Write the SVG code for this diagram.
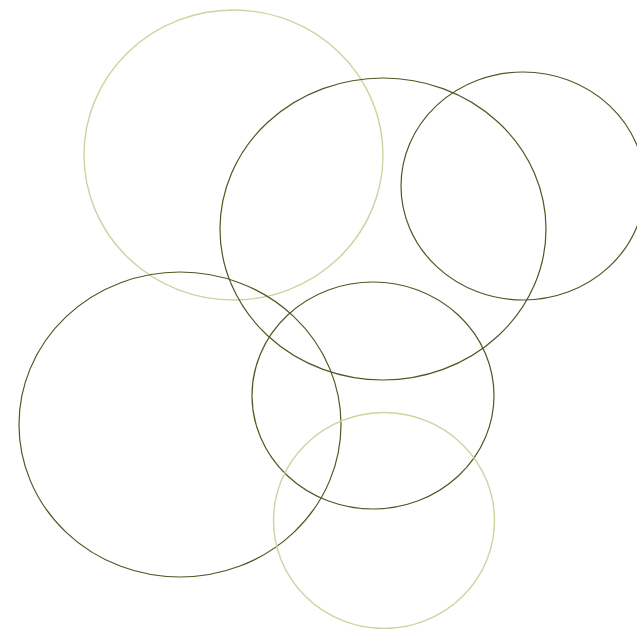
<svg xmlns="http://www.w3.org/2000/svg" width="637" height="629" viewBox="0 0 637 629">
<style>
.d{fill:none;stroke:#4b5a22;stroke-width:1.2}
.l{fill:none;stroke:#c6d7a0;stroke-width:1.4}
</style>
<rect width="637" height="629" fill="#fff"/>
<g id="e1"><ellipse class="l" cx="233.5" cy="155" rx="149.5" ry="145"/></g>
<g id="e2"><ellipse class="d" cx="383" cy="229" rx="163" ry="151"/></g>
<g id="e3"><ellipse class="d" cx="523" cy="186" rx="122" ry="114"/></g>
<g id="e4"><ellipse class="d" cx="180" cy="424.5" rx="161" ry="152.5"/></g>
<g id="e5"><ellipse class="d" cx="373" cy="395.5" rx="121" ry="113.5"/></g>
<g id="e6"><ellipse class="l" cx="384" cy="520.5" rx="110.5" ry="108"/></g>
</svg>
